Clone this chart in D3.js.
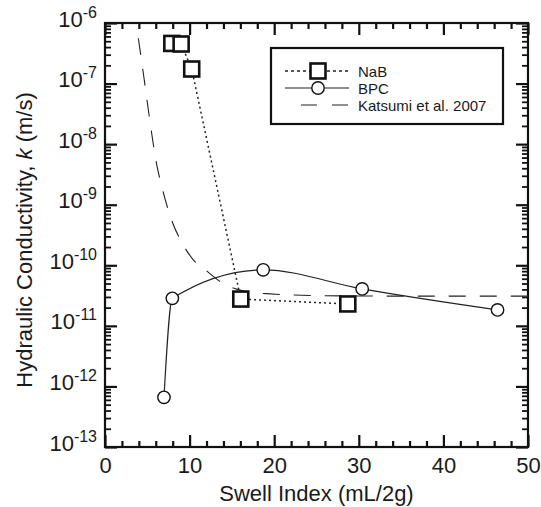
<!DOCTYPE html>
<html><head><meta charset="utf-8">
<script src="https://cdn.jsdelivr.net/npm/d3@7"></script>
<style>
body{margin:0;background:#fff}
svg{display:block}
text{font-family:"Liberation Sans",Arial,Helvetica,sans-serif;fill:#1a1a1a}
</style>
</head><body><svg id="c" width="541" height="507"></svg>
<script>
// ---- data ----
const nabSwell = [7.9, 9.0, 10.25, 16.05, 28.7];
const nabK = [4.6e-7, 4.5e-7, 1.74e-7, 2.77e-11, 2.3e-11];
const bpcSwell = [6.97, 7.96, 18.7, 30.4, 46.4];
const bpcK = [6.6e-13, 2.85e-11, 8.4e-11, 4.07e-11, 1.83e-11];
const katsumiSwell = [3.94, 4.6, 5.24, 6.0, 7.0, 8.0, 9.0, 10.44, 11.9, 13.98, 15.64, 17.3, 19.1, 25, 35, 50];
const katsumiK = [5.6e-7, 1.26e-7, 2.8e-8, 5.6e-9, 1.4e-9, 5.0e-10, 2.5e-10, 1.23e-10, 8.3e-11, 5.0e-11, 4.0e-11, 3.55e-11, 3.4e-11, 3.16e-11, 3.1e-11, 3.1e-11];
const xMajorTicks = [0, 10, 20, 30, 40, 50];
const yExponents = [-13, -12, -11, -10, -9, -8, -7, -6];
const legendLabels = ["NaB", "BPC", "Katsumi et al. 2007"];
const xTitle = "Swell Index (mL/2g)";

// ---- layout ----
const L = 105, R = 528, T = 23, B = 447;
const svg = d3.select("#c");
const x = d3.scaleLinear().domain([0, 50]).range([L, R]);
const y = d3.scaleLog().domain([1e-13, 1e-6]).range([B, T]);

const xMinor = d3.range(0, 51, 2).filter(v => v % 10 !== 0);
const yMajor = yExponents.map(e => Math.pow(10, e));
const yMinor = [];
yExponents.slice(0, -1).forEach(e => { for (let m = 2; m <= 9; m++) yMinor.push(m * Math.pow(10, e)); });

function styleAxis(g, w) {
  g.select(".domain").remove();
  g.selectAll(".tick line").attr("stroke", "#111").attr("stroke-width", w);
}

// bottom
svg.append("g").attr("transform", `translate(0,${B})`)
  .call(d3.axisBottom(x).tickValues(xMajorTicks).tickSize(-12).tickPadding(8).tickFormat(d3.format("d")))
  .call(g => styleAxis(g, 2.2))
  .call(g => g.selectAll(".tick text").attr("y", 26).attr("dy", 0).attr("font-size", 22).attr("fill", "#1a1a1a"));
svg.append("g").attr("transform", `translate(0,${B})`)
  .call(d3.axisBottom(x).tickValues(xMinor).tickSize(-6).tickFormat(""))
  .call(g => styleAxis(g, 2.2));
// top
svg.append("g").attr("transform", `translate(0,${T})`)
  .call(d3.axisTop(x).tickValues(xMajorTicks).tickSize(-12).tickFormat(""))
  .call(g => styleAxis(g, 2.2));
svg.append("g").attr("transform", `translate(0,${T})`)
  .call(d3.axisTop(x).tickValues(xMinor).tickSize(-6).tickFormat(""))
  .call(g => styleAxis(g, 2.2));
// left
svg.append("g").attr("transform", `translate(${L},0)`)
  .call(d3.axisLeft(y).tickValues(yMajor).tickSize(-12).tickPadding(8).tickFormat(""))
  .call(g => styleAxis(g, 2.2))
  .call(g => g.selectAll(".tick text").each(function(d) {
    const t = d3.select(this).attr("dy", 0).attr("y", 3).attr("font-size", 22).attr("fill", "#1a1a1a").text(null);
    t.append("tspan").text("10");
    t.append("tspan").attr("dy", -9).attr("font-size", 16).text(String(Math.round(Math.log10(d))));
  }));
svg.append("g").attr("transform", `translate(${L},0)`)
  .call(d3.axisLeft(y).tickValues(yMinor).tickSize(-6).tickFormat(""))
  .call(g => styleAxis(g, 1.8));
// right
svg.append("g").attr("transform", `translate(${R},0)`)
  .call(d3.axisRight(y).tickValues(yMajor).tickSize(-12).tickFormat(""))
  .call(g => styleAxis(g, 2.2));
svg.append("g").attr("transform", `translate(${R},0)`)
  .call(d3.axisRight(y).tickValues(yMinor).tickSize(-6).tickFormat(""))
  .call(g => styleAxis(g, 1.8));

// frame
svg.append("rect").attr("x", L).attr("y", T).attr("width", R - L).attr("height", B - T)
  .attr("fill", "none").attr("stroke", "#111").attr("stroke-width", 2.2);

// titles
svg.append("text").attr("x", (L + R) / 2).attr("y", 501).attr("text-anchor", "middle")
  .attr("font-size", 22).text(xTitle);
const yt = svg.append("text").attr("transform", `translate(32,${(T + B) / 2 + 5}) rotate(-90)`)
  .attr("text-anchor", "middle").attr("font-size", 22);
yt.append("tspan").text("Hydraulic Conductivity, ");
yt.append("tspan").attr("font-style", "italic").text("k");
yt.append("tspan").text(" (m/s)");

// clip
svg.append("clipPath").attr("id", "pc").append("rect").attr("x", L).attr("y", T).attr("width", R - L).attr("height", B - T);
const plot = svg.append("g").attr("clip-path", "url(#pc)");

const line = d3.line().x(d => x(d[0])).y(d => y(d[1]));

// Katsumi
plot.append("path").datum(katsumiSwell.map((s, i) => [s, katsumiK[i]]))
  .attr("d", line.curve(d3.curveMonotoneX))
  .attr("fill", "none").attr("stroke", "#222").attr("stroke-width", 1.1).attr("stroke-dasharray", "17,14");

// NaB
plot.append("path").datum(nabSwell.map((s, i) => [s, nabK[i]]))
  .attr("d", d3.line().x(d => x(d[0])).y(d => y(d[1])))
  .attr("fill", "none").attr("stroke", "#222").attr("stroke-width", 1.5).attr("stroke-dasharray", "2,3");

// BPC
plot.append("path").datum(bpcSwell.map((s, i) => [s, bpcK[i]]))
  .attr("d", d3.line().x(d => x(d[0])).y(d => y(d[1])).curve(d3.curveMonotoneX))
  .attr("fill", "none").attr("stroke", "#222").attr("stroke-width", 1.2);

const sq = 15;
plot.selectAll("rect.nab").data(nabSwell.map((s, i) => [s, nabK[i]])).join("rect")
  .attr("x", d => x(d[0]) - sq / 2).attr("y", d => y(d[1]) - sq / 2).attr("width", sq).attr("height", sq)
  .attr("fill", "#fff").attr("stroke", "#111").attr("stroke-width", 2.6);

plot.selectAll("circle.bpc").data(bpcSwell.map((s, i) => [s, bpcK[i]])).join("circle")
  .attr("cx", d => x(d[0])).attr("cy", d => y(d[1])).attr("r", 6.2)
  .attr("fill", "#fff").attr("stroke", "#111").attr("stroke-width", 1.4);

// legend
const lg = svg.append("g");
lg.append("rect").attr("x", 271).attr("y", 48).attr("width", 232).attr("height", 76)
  .attr("fill", "#fff").attr("stroke", "#111").attr("stroke-width", 2.2);
const rows = [71, 88, 105];
const lx0 = 285, lx1 = 349, lmid = 318, ltx = 358;
lg.append("line").attr("x1", lx0).attr("x2", lx1).attr("y1", rows[0]).attr("y2", rows[0])
  .attr("stroke", "#222").attr("stroke-width", 1.5).attr("stroke-dasharray", "3,3");
lg.append("rect").attr("x", lmid - 7.5).attr("y", rows[0] - 7.5).attr("width", 15).attr("height", 15)
  .attr("fill", "#fff").attr("stroke", "#111").attr("stroke-width", 2.6);
lg.append("line").attr("x1", lx0).attr("x2", lx1).attr("y1", rows[1]).attr("y2", rows[1])
  .attr("stroke", "#222").attr("stroke-width", 1.2);
lg.append("circle").attr("cx", lmid).attr("cy", rows[1]).attr("r", 6.2)
  .attr("fill", "#fff").attr("stroke", "#111").attr("stroke-width", 1.4);
lg.append("line").attr("x1", 301).attr("x2", 348).attr("y1", rows[2]).attr("y2", rows[2])
  .attr("stroke", "#222").attr("stroke-width", 1.1).attr("stroke-dasharray", "16,15");
lg.selectAll("text.lab").data(legendLabels).join("text")
  .attr("x", ltx).attr("y", (d, i) => rows[i] + 5.5).attr("font-size", 15).text(d => d);
</script></body></html>
